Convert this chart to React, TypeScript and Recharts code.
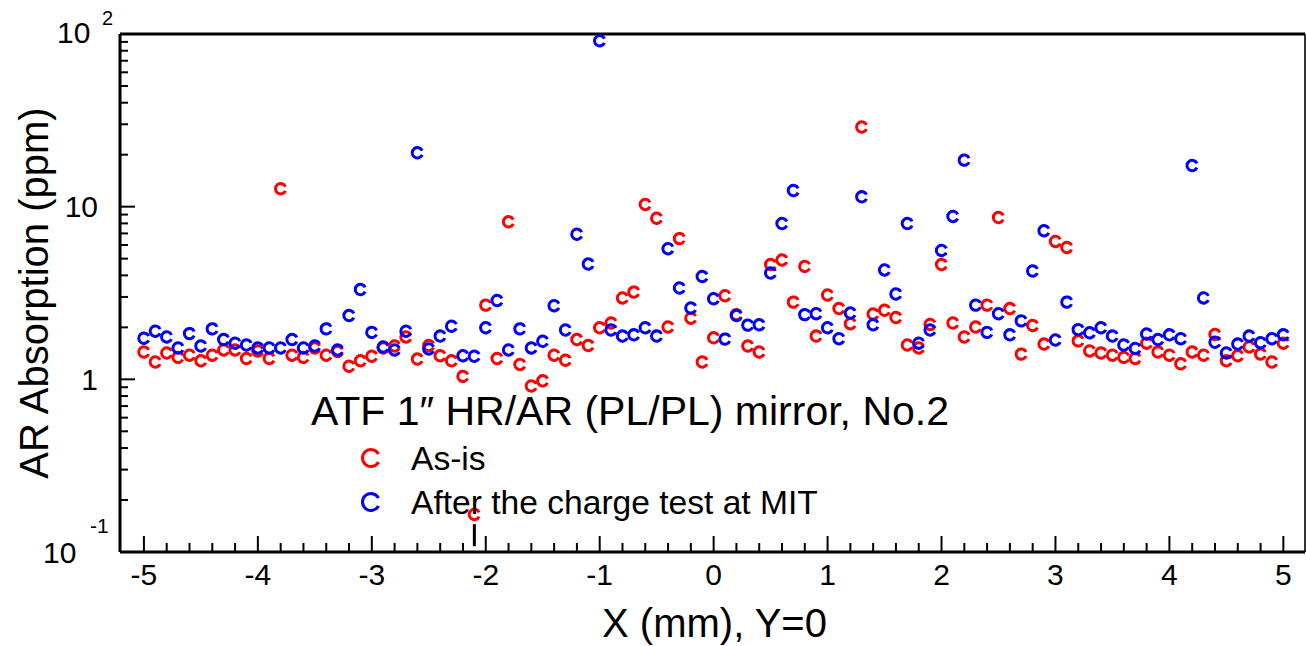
import React from 'react';
import { ScatterChart, Scatter, XAxis, YAxis, ErrorBar, Legend, Label, ReferenceLine } from 'recharts';

const FONT = '"Liberation Sans", Arial, Helvetica, sans-serif';

// X positions (mm), Y=0
const xPositions = [
  -5.0, -4.9, -4.8, -4.7, -4.6, -4.5, -4.4, -4.3, -4.2, -4.1,
  -4.0, -3.9, -3.8, -3.7, -3.6, -3.5, -3.4, -3.3, -3.2, -3.1,
  -3.0, -2.9, -2.8, -2.7, -2.6, -2.5, -2.4, -2.3, -2.2, -2.1,
  -2.0, -1.9, -1.8, -1.7, -1.6, -1.5, -1.4, -1.3, -1.2, -1.1,
  -1.0, -0.9, -0.8, -0.7, -0.6, -0.5, -0.4, -0.3, -0.2, -0.1,
  0.0, 0.1, 0.2, 0.3, 0.4, 0.5, 0.6, 0.7, 0.8, 0.9,
  1.0, 1.1, 1.2, 1.3, 1.4, 1.5, 1.6, 1.7, 1.8, 1.9,
  2.0, 2.1, 2.2, 2.3, 2.4, 2.5, 2.6, 2.7, 2.8, 2.9,
  3.0, 3.1, 3.2, 3.3, 3.4, 3.5, 3.6, 3.7, 3.8, 3.9,
  4.0, 4.1, 4.2, 4.3, 4.4, 4.5, 4.6, 4.7, 4.8, 4.9,
  5.0,
];

// AR absorption (ppm), as-is
const asIsValues = [
  1.44, 1.26, 1.42, 1.34, 1.38, 1.28, 1.38, 1.48, 1.48, 1.32,
  1.46, 1.32, 12.7, 1.38, 1.34, 1.52, 1.38, 1.45, 1.19, 1.28,
  1.36, 1.52, 1.56, 1.76, 1.31, 1.57, 1.37, 1.28, 1.04, 0.165,
  2.69, 1.32, 8.17, 1.22, 0.915, 0.98, 1.38, 1.29, 1.70, 1.57,
  1.99, 2.12, 2.96, 3.20, 10.3, 8.57, 2.01, 6.53, 2.26, 1.26,
  1.74, 3.05, 2.37, 1.56, 1.44, 4.62, 4.91, 2.80, 4.51, 1.78,
  3.08, 2.57, 2.10, 28.9, 2.39, 2.51, 2.28, 1.58, 1.52, 2.08,
  4.62, 2.12, 1.76, 2.01, 2.69, 8.65, 2.57, 1.40, 2.05, 1.60,
  6.29, 5.80, 1.67, 1.46, 1.42, 1.38, 1.34, 1.32, 1.62, 1.44,
  1.38, 1.23, 1.44, 1.38, 1.82, 1.28, 1.37, 1.54, 1.40, 1.26,
  1.62,
];

// AR absorption (ppm), after the charge test at MIT
const afterChargeValues = [
  1.73, 1.90, 1.76, 1.52, 1.84, 1.56, 1.96, 1.70, 1.62, 1.58,
  1.52, 1.52, 1.52, 1.70, 1.52, 1.56, 1.96, 1.48, 2.34, 3.31,
  1.87, 1.54, 1.48, 1.90, 20.5, 1.50, 1.78, 2.03, 1.37, 1.36,
  1.99, 2.86, 1.48, 1.96, 1.52, 1.66, 2.67, 1.93, 6.92, 4.65,
  91.4, 1.93, 1.78, 1.81, 1.99, 1.78, 5.71, 3.38, 2.59, 3.94,
  2.93, 1.71, 2.34, 2.06, 2.07, 4.13, 7.98, 12.4, 2.37, 2.40,
  1.99, 1.72, 2.42, 11.4, 2.07, 4.30, 3.12, 7.98, 1.62, 1.93,
  5.58, 8.78, 18.6, 2.69, 1.87, 2.40, 1.81, 2.18, 4.24, 7.25,
  1.69, 2.80, 1.94, 1.86, 1.99, 1.78, 1.58, 1.51, 1.83, 1.70,
  1.81, 1.72, 17.3, 2.96, 1.64, 1.42, 1.60, 1.78, 1.63, 1.72,
  1.81,
];

// single lower error bar on the as-is series
const errorPointX = -2.1;
const errorPointLow = 0.057;
const errorPointHigh = -0.02;

const seriesNames = ['As-is', 'After the charge test at MIT'];
const seriesColors = ['#ff0000', '#0000ff'];
const legendTitle = 'ATF 1\u2033 HR/AR (PL/PL) mirror, No.2';
const xAxisTitle = 'X (mm), Y=0';
const yAxisTitle = 'AR Absorption (ppm)';

const xDomain = [-5.21, 5.19];
const yDomain = [0.1, 100];

const xTicks = [
  -5, -4.8, -4.6, -4.4, -4.2, -4, -3.8, -3.6, -3.4, -3.2,
  -3, -2.8, -2.6, -2.4, -2.2, -2, -1.8, -1.6, -1.4, -1.2,
  -1, -0.8, -0.6, -0.4, -0.2, 0, 0.2, 0.4, 0.6, 0.8,
  1, 1.2, 1.4, 1.6, 1.8, 2, 2.2, 2.4, 2.6, 2.8,
  3, 3.2, 3.4, 3.6, 3.8, 4, 4.2, 4.4, 4.6, 4.8, 5,
];

const yTicks = [
  0.1, 0.2, 0.3, 0.4, 0.5, 0.6, 0.7, 0.8, 0.9,
  1, 2, 3, 4, 5, 6, 7, 8, 9,
  10, 20, 30, 40, 50, 60, 70, 80, 90, 100,
];

const asIsData = xPositions.map((x, i) => ({
  x,
  y: asIsValues[i],
  err: x === errorPointX ? [errorPointLow, errorPointHigh] : undefined,
}));
const afterData = xPositions.map((x, i) => ({ x, y: afterChargeValues[i] }));

function cPath(cx: number, cy: number, r: number, gapDeg: number) {
  const a = (gapDeg * Math.PI) / 180;
  const x1 = cx + r * Math.cos(a);
  const y1 = cy + r * Math.sin(a);
  const y2 = cy - r * Math.sin(a);
  return `M ${x1} ${y1} A ${r} ${r} 0 1 1 ${x1} ${y2}`;
}

const makeMarker = (color: string) => (props: any) => {
  const { cx, cy } = props;
  if (cx == null || cy == null) return <g />;
  return <path d={cPath(cx, cy, 5.2, 24)} fill="none" stroke={color} strokeWidth={3} />;
};

const XTick = (props: any) => {
  const { x, y, payload } = props;
  const v = payload.value;
  const major = Math.abs(v - Math.round(v)) < 1e-6;
  const base = y - 1;
  return (
    <g>
      <line x1={x} y1={base} x2={x} y2={base - (major ? 15 : 8)} stroke="#000" strokeWidth={2} />
      {major && (
        <text x={x} y={base + 34} textAnchor="middle" fontSize={30} fontFamily={FONT} fill="#000">
          {String(Math.round(v) === 0 ? 0 : Math.round(v))}
        </text>
      )}
    </g>
  );
};

const YTick = (props: any) => {
  const { x, y, payload } = props;
  const v = payload.value;
  const lg = Math.log10(v);
  const major = Math.abs(lg - Math.round(lg)) < 1e-6;
  const p = Math.round(lg);
  let label: any = null;
  if (major) {
    if (p === 0 || p === 1) {
      label = (
        <text x={x - 22} y={y + 10.7} textAnchor="end" fontSize={30} fontFamily={FONT} fill="#000">
          {p === 0 ? '1' : '10'}
        </text>
      );
    } else if (p === 2) {
      label = (
        <g>
          <text x={x - 63} y={y + 9} fontSize={30} fontFamily={FONT} fill="#000">10</text>
          <text x={x - 18} y={y - 9} fontSize={20} fontFamily={FONT} fill="#000">2</text>
        </g>
      );
    } else if (p === -1) {
      label = (
        <g>
          <text x={x - 77} y={y + 11} fontSize={30} fontFamily={FONT} fill="#000">10</text>
          <text x={x - 30} y={y - 19} fontSize={21} fontFamily={FONT} fill="#000">-1</text>
        </g>
      );
    }
  }
  return (
    <g>
      <line x1={x} y1={y} x2={x + (major ? 15 : 8)} y2={y} stroke="#000" strokeWidth={2} />
      {label}
    </g>
  );
};

const renderLegend = (props: any) => {
  const payload: any[] = props.payload || [];
  const entries = seriesNames.map((name, i) => {
    const item = payload.find((p) => p.value === name);
    return { name, color: (item && item.color) || seriesColors[i] };
  });
  return (
    <svg width={1306} height={646} style={{ position: 'absolute', left: 0, top: 0 }}>
      <text x={311} y={425} fontSize={41} fontFamily={FONT} fill="#000">{legendTitle}</text>
      {entries.map((e, i) => (
        <g key={e.name}>
          <path d={cPath(371, 458 + i * 44, 8.5, 28)} fill="none" stroke={e.color} strokeWidth={3} />
          <text x={411} y={470 + i * 44} fontSize={33.6} fontFamily={FONT} fill="#000">{e.name}</text>
        </g>
      ))}
    </svg>
  );
};

const YLabel = (props: any) => {
  const vb = props.viewBox || { x: 119, y: 34, width: 1, height: 518 };
  const cx = vb.x + vb.width - 72;
  const cy = vb.y + vb.height / 2;
  return (
    <text x={cx} y={cy} transform={`rotate(-90 ${cx} ${cy})`} textAnchor="middle" fontSize={40} fontFamily={FONT} fill="#000">
      {yAxisTitle}
    </text>
  );
};

const XLabel = (props: any) => {
  const vb = props.viewBox || { x: 120, y: 552, width: 1185, height: 1 };
  return (
    <text x={vb.x + vb.width / 2 + 2} y={vb.y + 85} textAnchor="middle" fontSize={40} fontFamily={FONT} fill="#000">
      {xAxisTitle}
    </text>
  );
};

export default function App() {
  return (
    <div style={{ position: 'absolute', left: 0, top: 0, width: 1306, height: 646, background: '#fff' }}>
      <ScatterChart width={1306} height={646} margin={{ top: 34, right: 1, bottom: 93, left: 119 }}>
        <XAxis
          type="number"
          dataKey="x"
          domain={xDomain}
          allowDataOverflow
          ticks={xTicks}
          interval={0}
          height={1}
          tickSize={0}
          tickMargin={0}
          tickLine={false}
          tick={<XTick />}
          axisLine={{ stroke: '#000', strokeWidth: 3 }}
        >
          <Label content={<XLabel />} />
        </XAxis>
        <YAxis
          type="number"
          dataKey="y"
          scale="log"
          domain={yDomain}
          allowDataOverflow
          ticks={yTicks}
          interval={0}
          width={1}
          tickSize={0}
          tickMargin={0}
          tickLine={false}
          tick={<YTick />}
          axisLine={{ stroke: '#000', strokeWidth: 3 }}
        >
          <Label content={<YLabel />} />
        </YAxis>
        <ReferenceLine y={yDomain[1]} stroke="#000" strokeWidth={3} />
        <ReferenceLine x={xDomain[1]} stroke="#000" strokeWidth={1.6} />
        <Legend
          layout="horizontal"
          verticalAlign="middle"
          align="center"
          wrapperStyle={{ left: 0, top: 0, width: 1306, height: 646, pointerEvents: 'none' }}
          content={renderLegend}
        />
        <Scatter
          name={seriesNames[0]}
          data={asIsData}
          fill={seriesColors[0]}
          shape={makeMarker(seriesColors[0])}
          isAnimationActive={false}
        >
          <ErrorBar dataKey="err" direction="y" width={0} stroke="#000" strokeWidth={3} isAnimationActive={false} />
        </Scatter>
        <Scatter
          name={seriesNames[1]}
          data={afterData}
          fill={seriesColors[1]}
          shape={makeMarker(seriesColors[1])}
          isAnimationActive={false}
        />
      </ScatterChart>
    </div>
  );
}
